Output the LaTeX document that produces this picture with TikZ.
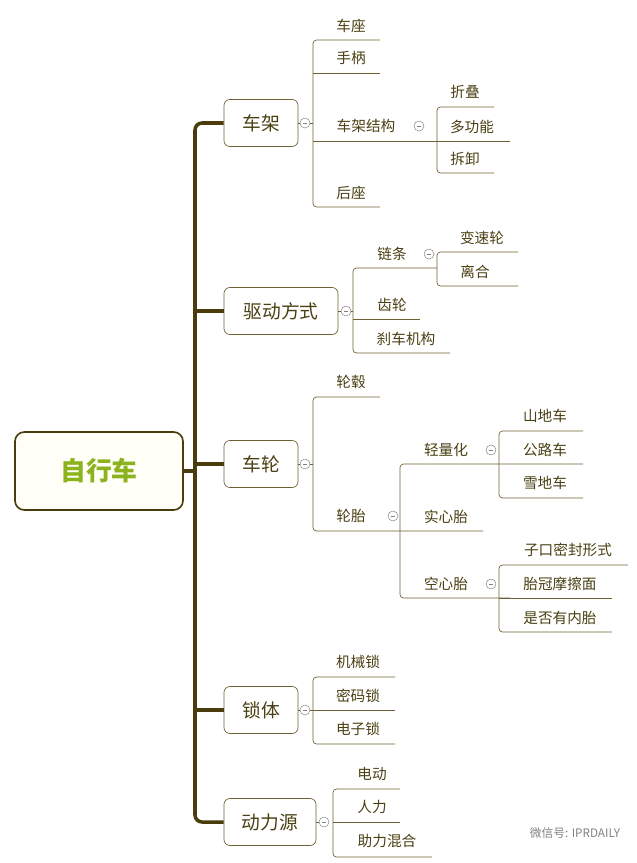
\documentclass[tikz,border=0pt]{standalone}
\usepackage{fontspec}
\setmainfont{Noto Sans CJK SC}
\usepackage{tikz}
\usetikzlibrary{positioning,calc}
\definecolor{ink}{HTML}{4A3F12}
\definecolor{wire}{HTML}{6E6034}
\definecolor{trunk}{HTML}{4A3C0C}
\definecolor{leafgreen}{HTML}{8CB31E}

\begin{document}
\begin{tikzpicture}[
    x=0.03cm, y=-0.03cm,
    root/.style={rectangle, rounded corners=8pt, draw=trunk, line width=1.4pt, fill=yellow!3, minimum width=168*0.03cm, minimum height=78*0.03cm, font=\fontsize{22}{24}\selectfont\bfseries, text=leafgreen},
    mainbox/.style={rectangle, rounded corners=5pt, draw=wire, line width=0.6pt, minimum height=47*0.03cm, font=\fontsize{16}{18}\selectfont, text=ink},
    leaf/.style={font=\fontsize{12.5}{14}\selectfont, text=ink, inner sep=0pt},
    fold/.style={circle, draw=gray, line width=0.4pt, minimum size=0.3cm, inner sep=0pt,
        path picture={\draw[gray, line width=0.5pt] ([xshift=-1.8pt]path picture bounding box.center) -- ([xshift=1.8pt]path picture bounding box.center);}},
    wire/.style={draw=wire, line width=0.6pt, rounded corners=3pt},
]
    \useasboundingbox (0,0) rectangle (636,863);

    % root and trunk
    \node[root] (bike) at (99,471) {自行车};
    \node[mainbox, minimum width=74*0.03cm] (frame) at (261,123) {车架};
    \node[mainbox, minimum width=114*0.03cm] (drive) at (281,311) {驱动方式};
    \node[mainbox, minimum width=74*0.03cm] (wheel) at (261,464) {车轮};
    \node[mainbox, minimum width=74*0.03cm] (lock) at (261,710) {锁体};
    \node[mainbox, minimum width=92*0.03cm] (power) at (270,822) {动力源};

    \coordinate (tjoin) at (195,471);
    \draw[trunk, line width=3pt] (bike.east) -- (tjoin);
    \draw[trunk, line width=3pt, rounded corners=6pt] (frame.west) -| (tjoin) |- (power.west);
    \draw[trunk, line width=3pt, rounded corners=6pt] (195,311) -- (drive.west);
    \draw[trunk, line width=3pt] (195,464) -- (wheel.west);
    \draw[trunk, line width=3pt] (195,710) -- (lock.west);

    % 车架
    \node[fold] (fframe) at (305,123) {};
    \draw[wire] (frame.east) -- (fframe.west);
    \draw[wire] (fframe.east) -- (313,123);
    \draw[wire] (380,40) -- (313,40) -- (313,207) -- (380,207);
    \draw[wire] (313,73) -- (380,73);
    \draw[wire] (313,141) -- (510,141);
    \node[leaf] (seat) at (351,26) {车座};
    \node[leaf] (handle) at (351,58) {手柄};
    \node[leaf] (struct) at (366,126) {车架结构};
    \node[leaf] (rear) at (351,193) {后座};
    \node[fold] (fstruct) at (419,126) {};
    \draw[wire] (494,107) -- (437,107) -- (437,173) -- (494,173);
    \node[leaf] (fold1) at (465,92) {折叠};
    \node[leaf] (multi) at (472,127) {多功能};
    \node[leaf] (detach) at (465,159) {拆卸};

    % 驱动方式
    \node[fold] (fdrive) at (346,311) {};
    \draw[wire] (drive.east) -- (fdrive.west);
    \draw[wire] (fdrive.east) -- (353,311);
    \draw[wire] (437,268) -- (353,268) -- (353,353) -- (450,353);
    \draw[wire] (353,319) -- (420,319);
    \node[leaf] (chain) at (392,254) {链条};
    \node[leaf] (gear) at (392,305) {齿轮};
    \node[leaf] (brake) at (406,339) {刹车机构};
    \node[fold] (fchain) at (429,254) {};
    \draw[wire] (518,252) -- (437,252) -- (437,286) -- (518,286);
    \node[leaf] (shift) at (482,238) {变速轮};
    \node[leaf] (clutch) at (475,272) {离合};

    % 车轮
    \node[fold] (fwheel) at (305,464) {};
    \draw[wire] (wheel.east) -- (fwheel.west);
    \draw[wire] (fwheel.east) -- (313,464);
    \draw[wire] (380,397) -- (313,397) -- (313,531) -- (483,531);
    \node[leaf] (hub) at (351,382) {轮毂};
    \node[leaf] (tire) at (351,516) {轮胎};
    \node[fold] (ftire) at (393,516) {};
    \draw[wire] (583,464) -- (400,464) -- (400,598) -- (510,598);
    \node[leaf] (light) at (446,450) {轻量化};
    \node[leaf] (solid) at (446,517) {实心胎};
    \node[leaf] (hollow) at (446,584) {空心胎};
    \node[fold] (flight) at (491,450) {};
    \draw[wire] (583,431) -- (499,431) -- (499,498) -- (583,498);
    \node[leaf] (mtb) at (545,416) {山地车};
    \node[leaf] (road) at (545,450) {公路车};
    \node[leaf] (snow) at (545,483) {雪地车};
    \node[fold] (fhollow) at (491,584) {};
    \draw[wire] (628,565) -- (499,565) -- (499,632) -- (612,632);
    \draw[wire] (499,598) -- (612,598);
    \node[leaf] (seal) at (568,550) {子口密封形式};
    \node[leaf] (crown) at (560,584) {胎冠摩擦面};
    \node[leaf] (inner) at (560,618) {是否有内胎};

    % 锁体
    \node[fold] (flock) at (305,710) {};
    \draw[wire] (lock.east) -- (flock.west);
    \draw[wire] (flock.east) -- (313,710);
    \draw[wire] (395,677) -- (313,677) -- (313,744) -- (395,744);
    \draw[wire] (313,710) -- (395,710);
    \node[leaf] (mech) at (358,662) {机械锁};
    \node[leaf] (code) at (358,696) {密码锁};
    \node[leaf] (elec) at (358,729) {电子锁};

    % 动力源
    \node[fold] (fpower) at (324,822) {};
    \draw[wire] (power.east) -- (fpower.west);
    \draw[wire] (400,789) -- (333,789) -- (333,857) -- (432,857);
    \draw[wire] (333,822) -- (400,822);
    \node[leaf] (motor) at (372,774) {电动};
    \node[leaf] (human) at (372,807) {人力};
    \node[leaf] (hybrid) at (387,841) {助力混合};

    \node[font=\fontsize{10}{12}\selectfont, text=gray] (mark) at (575,833) {微信号: IPRDAILY};
\end{tikzpicture}
\end{document}
